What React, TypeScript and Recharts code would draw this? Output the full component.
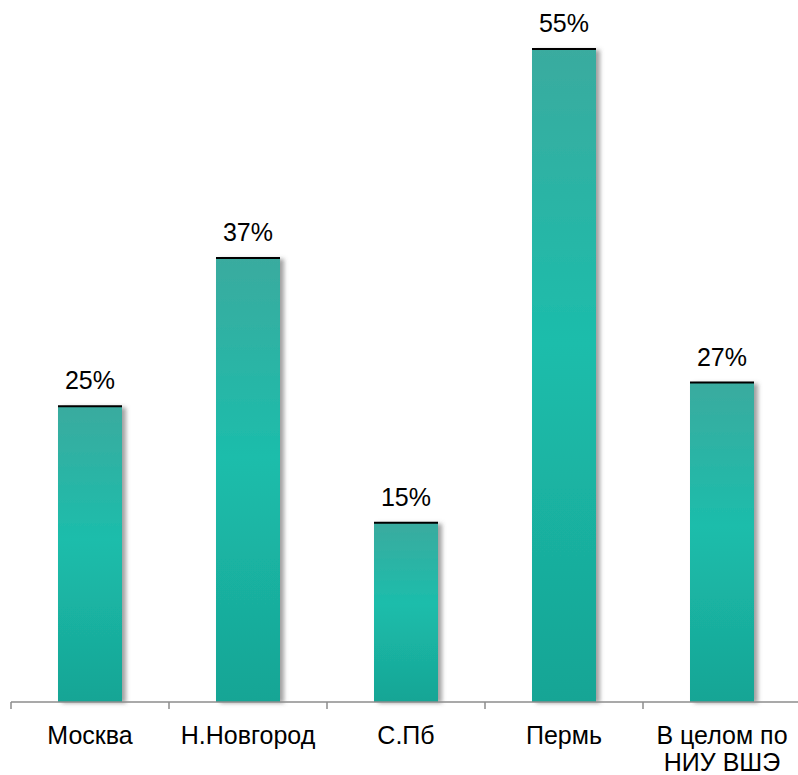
import { BarChart, Bar, XAxis, YAxis, LabelList } from 'recharts';

const cities = ['Москва', 'Н.Новгород', 'С.Пб', 'Пермь', 'В целом по НИУ ВШЭ'];
const shares = [24.9, 37.4, 15.1, 55, 26.9];
const tickLabels = [['Москва'], ['Н.Новгород'], ['С.Пб'], ['Пермь'], ['В целом по', 'НИУ ВШЭ']];

const data = cities.map((city, i) => ({ city, share: shares[i] }));

const FONT = '"Liberation Sans", Arial, sans-serif';
const BAND = 158;

/** Bar with vertical teal gradient, soft right-hand shadow and a black cap line. */
function ShadowBar(props: any) {
  const { x, y, width, height } = props;
  if (!height || height <= 0) return null;
  return (
    <g>
      <rect x={x} y={y} width={width} height={height} fill="url(#barFill)" filter="url(#barShadow)" />
      <line x1={x} x2={x + width} y1={y} y2={y} stroke="#000" strokeWidth={2} />
    </g>
  );
}

function CityTick(props: any) {
  const { x, y, payload, index } = props;
  const lines = tickLabels[index] ?? [payload.value];
  const left = x - BAND / 2;
  return (
    <g>
      <line x1={left} x2={left} y1={y} y2={y + 7} stroke="#8c8c8c" strokeWidth={1.5} />
      {index === cities.length - 1 && (
        <line x1={left + BAND} x2={left + BAND} y1={y} y2={y + 7} stroke="#8c8c8c" strokeWidth={1.5} />
      )}
      <text x={x} y={y + 42} textAnchor="middle" fontSize={25} fontFamily={FONT} fill="#000">
        {lines.map((l: string, i: number) => (
          <tspan key={i} x={x} dy={i === 0 ? 0 : 27}>{l}</tspan>
        ))}
      </text>
    </g>
  );
}

export default function App() {
  return (
    <div style={{ position: 'absolute', left: 0, top: 0, width: 798, height: 775, overflow: 'hidden', background: '#fff' }}>
      <BarChart
        width={801}
        height={775}
        data={data}
        margin={{ top: 49, right: 0, bottom: 0, left: 11 }}
        barSize={64}
      >
        <defs>
          <linearGradient id="barFill" x1="0" y1="0" x2="0" y2="1">
            <stop offset="0%" stopColor="#3aab9f" />
            <stop offset="45%" stopColor="#1cbdab" />
            <stop offset="100%" stopColor="#17a595" />
          </linearGradient>
          <filter id="barShadow" x="-20%" y="-10%" width="150%" height="120%">
            <feDropShadow dx={4} dy={1} stdDeviation={2} floodColor="#555" floodOpacity={0.55} />
          </filter>
        </defs>
        <YAxis hide domain={[0, 55]} />
        <XAxis
          dataKey="city"
          height={73}
          interval={0}
          tickLine={false}
          tickSize={0}
          tickMargin={0}
          axisLine={{ stroke: '#8c8c8c', strokeWidth: 1.5 }}
          tick={<CityTick />}
        />
        <Bar dataKey="share" shape={<ShadowBar />} isAnimationActive={false}>
          <LabelList
            dataKey="share"
            position="top"
            offset={17}
            formatter={(v: any) => `${Math.round(Number(v))}%`}
            style={{ fontSize: 25, fontFamily: FONT, fill: '#000' }}
          />
        </Bar>
      </BarChart>
    </div>
  );
}
